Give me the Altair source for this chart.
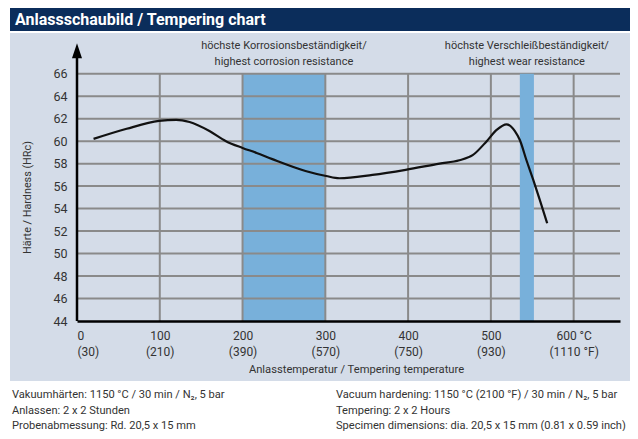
import altair as alt
import pandas as pd

# ---- data ----
temp = [20, 60, 99, 120, 136, 160, 180, 200, 217, 236, 276, 301, 317, 357, 397, 438, 462, 478, 495, 507,
        519, 529, 535, 543, 551, 559, 568]
hrc = [60.2, 61.1, 61.8, 61.9, 61.7, 60.9, 60.0, 59.4, 58.95, 58.4, 57.35, 56.9, 56.7, 57.0, 57.45, 58.0,
       58.3, 58.75, 60.0, 61.0, 61.5, 60.9, 60.1, 58.3, 56.6, 54.8, 52.7]

x_ticks = [0, 100, 200, 300, 400, 500, 600]
x_labels_c = ["0", "100", "200", "300", "400", "500", "600 °C"]
x_labels_f = ["(30)", "(210)", "(390)", "(570)", "(750)", "(930)", "(1110 °F)"]
y_ticks = [44, 46, 48, 50, 52, 54, 56, 58, 60, 62, 64, 66]
h_grid = [46, 48, 50, 52, 54, 56, 58, 60, 62, 64, 66]
v_grid = [100, 200, 300, 400, 500, 600]

corr_band = [200, 300]
wear_band = [535, 552]
ann_corr = ["höchste Korrosionsbeständigkeit/", "highest corrosion resistance"]
ann_wear = ["höchste Verschleißbeständigkeit/", "highest wear resistance"]

title = "Anlassschaubild / Tempering chart"
foot_left = ["Vakuumhärten: 1150 °C / 30 min / N₂, 5 bar", "Anlassen: 2 x 2 Stunden", "Probenabmessung: Rd. 20,5 x 15 mm"]
foot_right = ["Vacuum hardening: 1150 °C (2100 °F) / 30 min / N₂, 5 bar", "Tempering: 2 x 2 Hours",
              "Specimen dimensions: dia. 20,5 x 15 mm (0.81 x 0.59 inch)"]

FONT = "Roboto, sans-serif"
TXT = "#333333"
GRID = "#8a8a8a"
BAND = "#78b0da"
PANEL = "#d4dce8"
NAVY = "#0b2d5b"

W, H = 543, 281

# label expression built from the lists
expr = "''"
for v, a, b in reversed(list(zip(x_ticks, x_labels_c, x_labels_f))):
    expr = f"datum.value == {v} ? ['{a}', '{b}'] : ({expr})"

xs = alt.Scale(domain=[0, 656], nice=False, zero=False)
ys = alt.Scale(domain=[44, 69], nice=False, zero=False)
xaxis = alt.Axis(values=x_ticks, labelExpr=expr, grid=False, ticks=False, domain=True, zindex=1,
                 domainColor="black", domainWidth=2.5, labelPadding=9, labelLineHeight=16,
                 labelBaseline="top", labelFontSize=12, labelColor=TXT, labelFont=FONT,
                 title="Anlasstemperatur / Tempering temperature", titleFont=FONT, titleFontSize=11.2,
                 titleFontWeight="normal", titleColor=TXT, titleX=279, titleY=48, titleBaseline="middle")
yaxis = alt.Axis(values=y_ticks, grid=False, ticks=False, domain=False, labelPadding=10, zindex=1,
                 labelFontSize=12.5, labelColor=TXT, labelFont=FONT,
                 title="Härte / Hardness (HRc)", titleFont=FONT, titleFontSize=10.8, titleFontWeight="normal",
                 titleColor=TXT, titleAngle=270, titleX=-50, titleY=157, titleAlign="center",
                 titleBaseline="middle")


def X(f, **kw):
    return alt.X(f, type="quantitative", scale=xs, axis=xaxis, **kw)


def Y(f, **kw):
    return alt.Y(f, type="quantitative", scale=ys, axis=yaxis, **kw)


one = alt.Data(values=[{"k": 1}])

# decorative background: title bar and panel
title_bar = alt.Chart(one).mark_rect(color=NAVY).encode(
    x=alt.value(-67), x2=alt.value(555), y=alt.value(-32), y2=alt.value(-9))
panel = alt.Chart(one).mark_rect(color=PANEL).encode(
    x=alt.value(-67), x2=alt.value(555), y=alt.value(-7), y2=alt.value(341))

corr = alt.Chart(pd.DataFrame({"a": [corr_band[0]], "b": [corr_band[1]], "lo": [44], "hi": [66]})).mark_rect(
    color=BAND).encode(x=X("a"), x2="b", y=Y("lo"), y2="hi")
wear = alt.Chart(pd.DataFrame({"a": [wear_band[0]], "b": [wear_band[1]], "lo": [44], "hi": [66]})).mark_rect(
    color=BAND).encode(x=X("a"), x2="b", y=Y("lo"), y2="hi")

hg = alt.Chart(pd.DataFrame({"h": h_grid, "x0": 0, "x1": 656})).mark_rule(color=GRID, strokeWidth=2).encode(
    y=Y("h"), x=X("x0"), x2="x1")
vg = alt.Chart(pd.DataFrame({"v": v_grid, "lo": 44, "hi": 66})).mark_rule(color=GRID, strokeWidth=2).encode(
    x=X("v"), y=Y("lo"), y2="hi")

yline = alt.Chart(pd.DataFrame({"x0": [0], "lo": [44], "hi": [67.9]})).mark_rule(
    color="black", strokeWidth=2.5).encode(x=X("x0"), y=Y("lo"), y2="hi")
arrow = alt.Chart(pd.DataFrame({"x0": [0], "y0": [68.05]})).mark_point(
    shape="M-0.667,1L0,-1L0.667,1Z", size=225, filled=True, color="black", opacity=1, strokeWidth=0).encode(
    x=X("x0"), y=Y("y0"))

curve = alt.Chart(pd.DataFrame({"t": temp, "h": hrc})).mark_line(
    color="#111111", strokeWidth=2.2, interpolate="monotone").encode(x=X("t"), y=Y("h"))

ann = alt.Chart(pd.DataFrame({
    "x": [sum(corr_band) / 2, sum(wear_band) / 2],
    "y": [68.45, 68.45],
    "txt": [ann_corr, ann_wear]})).mark_text(
    font=FONT, fontSize=11, color=TXT, lineHeight=16, baseline="middle", align="center").encode(
    x=X("x"), y=Y("y"), text="txt")

ttl = alt.Chart(one).mark_text(text=title, font=FONT, fontSize=16, fontWeight="bold", color="white",
                               align="left", baseline="middle").encode(x=alt.value(-62), y=alt.value(-20))
fl = alt.Chart(one).mark_text(font=FONT, fontSize=11.1, color=TXT, align="left", baseline="middle",
                              lineHeight=15.5).encode(x=alt.value(-65), y=alt.value(355), text=alt.value(foot_left))
fr = alt.Chart(one).mark_text(font=FONT, fontSize=11.1, color=TXT, align="left", baseline="middle",
                              lineHeight=15.5).encode(x=alt.value(259), y=alt.value(355), text=alt.value(foot_right))

chart = alt.layer(title_bar, panel, corr, hg, vg, wear, yline, arrow, curve, ann, ttl, fl, fr).properties(
    width=W, height=H,
    autosize=alt.AutoSizeParams(type="none"),
    padding={"left": 69, "top": 32, "right": 10, "bottom": 110},
    background="white",
).configure_view(stroke=None)

chart.save("out.html", embed_options={"renderer": "svg", "actions": False})
